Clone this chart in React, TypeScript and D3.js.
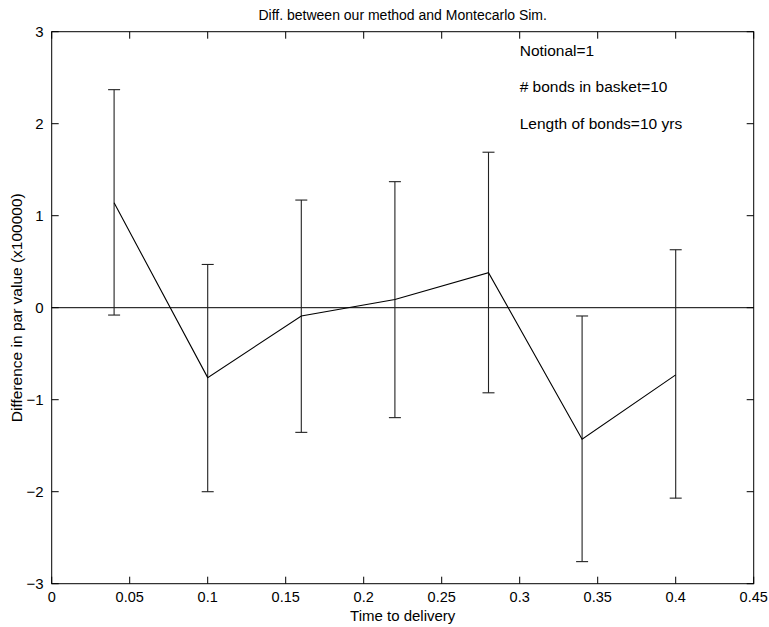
import * as d3 from 'd3';
import React, { useEffect, useRef } from 'react';

// time to delivery
const times = [0.04, 0.1, 0.16, 0.22, 0.28, 0.34, 0.4];
// mean difference (x100000)
const diffs = [1.14, -0.76, -0.09, 0.09, 0.38, -1.43, -0.73];
// error bar limits
const lows = [-0.08, -2.0, -1.355, -1.195, -0.925, -2.76, -2.07];
const highs = [2.37, 0.47, 1.17, 1.37, 1.69, -0.09, 0.63];

const xTicks = [0, 0.05, 0.1, 0.15, 0.2, 0.25, 0.3, 0.35, 0.4, 0.45];
const yTicks = [-3, -2, -1, 0, 1, 2, 3];

const notes = ['Notional=1', '# bonds in basket=10', 'Length of bonds=10 yrs'];
const noteY = [2.8, 2.4, 2.0];

const App = () => {
  const svgRef = useRef<SVGSVGElement>(null);

  useEffect(() => {
    const svg = d3.select(svgRef.current);
    svg.selectAll('*').remove();

    const left = 51.7, right = 753.7, top = 31.7, bottom = 583.7;
    const font = 'Liberation Sans, Arial, sans-serif';

    const x = d3.scaleLinear().domain([0, 0.45]).range([left, right]);
    const y = d3.scaleLinear().domain([-3, 3]).range([bottom, top]);

    const g = svg.append('g');

    // zero line
    g.append('line')
      .attr('x1', left).attr('x2', right)
      .attr('y1', y(0)).attr('y2', y(0))
      .attr('stroke', '#000').attr('stroke-width', 1);

    // error bars
    const capW = 6;
    times.forEach((t, i) => {
      const cx = x(t);
      g.append('line')
        .attr('x1', cx).attr('x2', cx)
        .attr('y1', y(lows[i])).attr('y2', y(highs[i]))
        .attr('stroke', '#222').attr('stroke-width', 1.1);
      [lows[i], highs[i]].forEach(v => {
        g.append('line')
          .attr('x1', cx - capW).attr('x2', cx + capW)
          .attr('y1', y(v)).attr('y2', y(v))
          .attr('stroke', '#222').attr('stroke-width', 1.1);
      });
    });

    // mean line
    g.append('path')
      .datum(times.map((t, i) => [t, diffs[i]] as [number, number]))
      .attr('fill', 'none')
      .attr('stroke', '#000')
      .attr('stroke-width', 1.1)
      .attr('d', d3.line<[number, number]>().x(d => x(d[0])).y(d => y(d[1])));

    // axes box
    g.append('rect')
      .attr('x', left).attr('y', top)
      .attr('width', right - left).attr('height', bottom - top)
      .attr('fill', 'none').attr('stroke', '#000').attr('stroke-width', 1);

    const tickLen = 7;
    xTicks.forEach(t => {
      g.append('line').attr('x1', x(t)).attr('x2', x(t))
        .attr('y1', bottom).attr('y2', bottom - tickLen).attr('stroke', '#000');
      g.append('line').attr('x1', x(t)).attr('x2', x(t))
        .attr('y1', top).attr('y2', top + tickLen).attr('stroke', '#000');
      g.append('text')
        .attr('x', x(t)).attr('y', bottom + 18.5)
        .attr('text-anchor', 'middle')
        .attr('font-family', font).attr('font-size', 14.5)
        .text(d3.format('~g')(t));
    });

    yTicks.forEach(t => {
      g.append('line').attr('x1', left).attr('x2', left + tickLen)
        .attr('y1', y(t)).attr('y2', y(t)).attr('stroke', '#000');
      g.append('line').attr('x1', right).attr('x2', right - tickLen)
        .attr('y1', y(t)).attr('y2', y(t)).attr('stroke', '#000');
      g.append('text')
        .attr('x', left - 8).attr('y', y(t) + 5.5)
        .attr('text-anchor', 'end')
        .attr('font-family', font).attr('font-size', 15)
        .text(d3.format('~g')(t));
    });

    // title and labels
    g.append('text')
      .attr('x', (left + right) / 2).attr('y', 20)
      .attr('text-anchor', 'middle')
      .attr('font-family', font).attr('font-size', 14)
      .text('Diff. between our method and Montecarlo Sim.');

    g.append('text')
      .attr('x', (left + right) / 2).attr('y', 621)
      .attr('text-anchor', 'middle')
      .attr('font-family', font).attr('font-size', 15)
      .text('Time to delivery');

    g.append('text')
      .attr('transform', `translate(22,${(top + bottom) / 2}) rotate(-90)`)
      .attr('text-anchor', 'middle')
      .attr('font-family', font).attr('font-size', 15.5)
      .text('Difference in par value (x100000)');

    notes.forEach((n, i) => {
      g.append('text')
        .attr('x', x(0.3)).attr('y', y(noteY[i]) + 5.5)
        .attr('font-family', font).attr('font-size', 15.5)
        .text(n);
    });
  }, []);

  return (
    <svg
      ref={svgRef}
      width={769}
      height={627}
      style={{ position: 'absolute', left: 0, top: 0, background: '#fff' }}
    />
  );
};

export default App;
